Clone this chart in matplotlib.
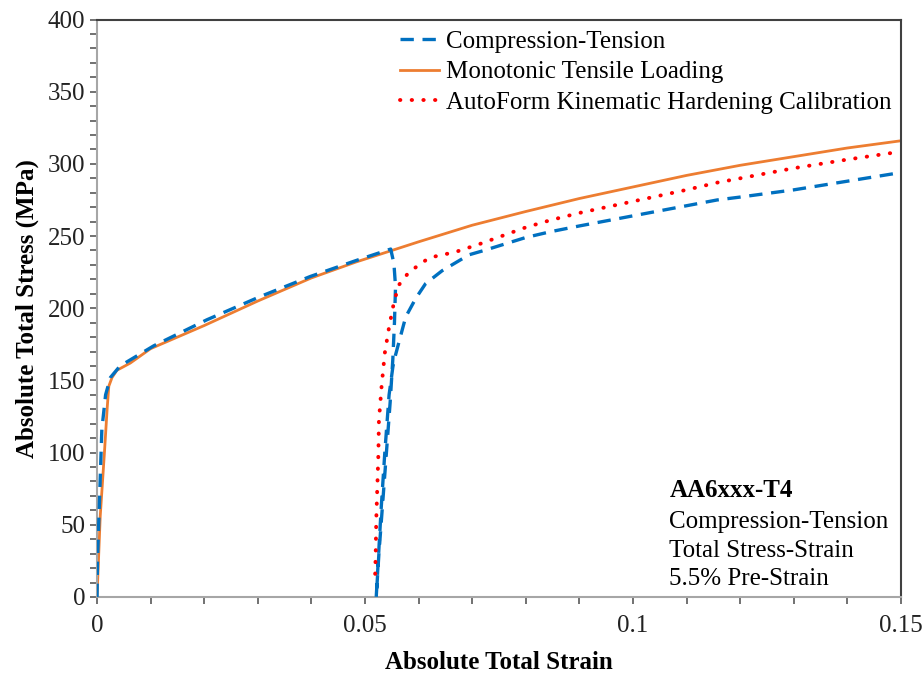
import matplotlib.pyplot as plt
from matplotlib.ticker import MultipleLocator, FuncFormatter

# monotonic tensile loading
mono_strain = [0, 0.0006, 0.0014, 0.0019, 0.0022, 0.0028, 0.0037, 0.0062, 0.01, 0.02, 0.03,
               0.04, 0.0483, 0.055, 0.06, 0.07, 0.08, 0.09, 0.1, 0.11, 0.12, 0.13, 0.14, 0.15]
mono_stress = [0, 56, 101, 131, 146, 152, 157, 162, 172, 188, 205,
               221, 232, 240, 246, 257.5, 267, 276, 284, 292, 299, 305, 311, 316]

# compression-tension: pre-strain, unload, reload
ct_strain = [0, 0.0001, 0.0005, 0.0009, 0.0016, 0.0025, 0.0043, 0.0106, 0.0205, 0.0304, 0.0398,
             0.0483, 0.0548, 0.0554, 0.0557, 0.0555, 0.0552, 0.0547, 0.054, 0.0533, 0.0526, 0.0521,
             0.0524, 0.053, 0.0537, 0.0545, 0.0553, 0.0563, 0.0576, 0.0595, 0.0613, 0.0644, 0.0694,
             0.0722, 0.08, 0.0846, 0.09, 0.1, 0.11, 0.1157, 0.12, 0.13, 0.14, 0.15]
ct_stress = [0, 27, 71, 116, 140, 152, 160, 174, 192, 208, 222,
             233, 241, 231, 215, 190, 165, 135, 100, 65, 30, 0,
             20, 60, 100, 140, 162, 176, 194, 207, 217, 226, 237,
             240, 249, 253, 257, 264, 271, 275, 277, 282, 288, 294]

# AutoForm kinematic hardening calibration
af_strain = [0.0519, 0.052, 0.0521, 0.0523, 0.0525, 0.0526, 0.0531, 0.0537, 0.0545, 0.0554,
             0.0563, 0.0582, 0.062, 0.0669, 0.0714, 0.08, 0.0846, 0.09, 0.1, 0.11, 0.1157,
             0.12, 0.13, 0.14, 0.15]
af_stress = [16, 30, 53, 76, 99, 122, 146, 169, 187, 204,
             216, 225, 235, 239, 244.5, 256, 261, 266, 274, 282, 287,
             290, 297, 303, 308.5]

info_title = "AA6xxx-T4"
info_lines = ["Compression-Tension", "Total Stress-Strain", "5.5% Pre-Strain"]

plt.rcParams['font.family'] = ['Liberation Serif', 'DejaVu Serif']

fig = plt.figure(figsize=(9.24, 6.73), dpi=100)
ax = fig.add_axes([0.105, 0.113, 0.870, 0.858])

ax.plot(ct_strain, ct_stress, color='#0070C0', lw=2.4, dashes=(4, 2.6),
        label='Compression-Tension', zorder=3)
ax.plot(mono_strain, mono_stress, color='#ED7D31', lw=2.0,
        label='Monotonic Tensile Loading', zorder=2)
ax.plot(af_strain, af_stress, color='#FF0000', lw=2.8, linestyle=(0, (0.1, 2.9)),
        dash_capstyle='round', label='AutoForm Kinematic Hardening Calibration', zorder=4)

ax.set_xlim(0, 0.15)
ax.set_ylim(0, 400)
ax.xaxis.set_major_locator(MultipleLocator(0.05))
ax.xaxis.set_minor_locator(MultipleLocator(0.01))
ax.yaxis.set_major_locator(MultipleLocator(50))
ax.yaxis.set_minor_locator(MultipleLocator(10))
ax.xaxis.set_major_formatter(FuncFormatter(lambda v, p: '0' if v == 0 else f'{v:g}'))

ax.tick_params(which='both', direction='out', length=5, width=1.2, color='#595959',
               labelsize=18, labelcolor='#222222')
ax.tick_params(axis='x', pad=8)

for side in ['left', 'bottom']:
    ax.spines[side].set_color('#A6A6A6')
    ax.spines[side].set_linewidth(1.5)
for side in ['top', 'right']:
    ax.spines[side].set_color('#404040')
    ax.spines[side].set_linewidth(1.5)

ax.set_xlabel('Absolute Total Strain', fontsize=18, fontweight='bold', labelpad=10)
ax.set_ylabel('Absolute Total Stress (MPa)', fontsize=18, fontweight='bold', labelpad=6)

leg = ax.legend(loc='upper right', bbox_to_anchor=(1.007, 1.007), frameon=False, fontsize=18,
                handlelength=1.55, handletextpad=0.3, labelspacing=0.32, borderaxespad=0.2)

ax.text(0.712, 0.165, info_title, transform=ax.transAxes, fontsize=18,
        fontweight='bold', va='bottom', ha='left')
ax.text(0.712, 0.148, '\n'.join(info_lines), transform=ax.transAxes, fontsize=18,
        va='top', ha='left', linespacing=1.36)

fig.savefig('out.png', dpi=100)
